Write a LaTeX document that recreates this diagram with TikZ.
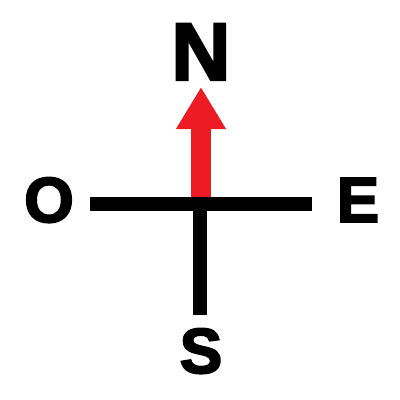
\documentclass[tikz,border=0pt]{standalone}
\usepackage{fontspec}
\setmainfont{Liberation Sans}
\newfontfamily\heavy{Liberation Sans Bold}[FakeBold=3]
\usetikzlibrary{arrows.meta}
\definecolor{nred}{RGB}{237,28,36}
\begin{document}
\begin{tikzpicture}[x=1bp,y=-1bp,
  lbl/.style={font=\heavy\fontsize{64}{64}\selectfont, anchor=base, inner sep=0pt},
  bar/.style={line width=14bp, black},
  needle/.style={line width=20bp, nred, -{Triangle[width=47bp,length=42bp]}}]
\useasboundingbox (0,0) rectangle (400,400);
\coordinate (c) at (200,204);
\coordinate (w) at (90,204);
\coordinate (e) at (312,204);
\coordinate (s) at (200,315);
\coordinate (nb) at (201,198);
\coordinate (nt) at (201,87);
\draw[needle] (nb) -- (nt);
\draw[bar] (w) -- (e);
\draw[bar] (c) -- (s);
\node[lbl, font=\heavy\fontsize{82}{82}\selectfont] (N) at (201,80) {N};
\node[lbl] (O) at (49,222) {O};
\node[lbl] (E) at (358,222) {E};
\node[lbl] (S) at (201,373) {S};
\end{tikzpicture}
\end{document}
